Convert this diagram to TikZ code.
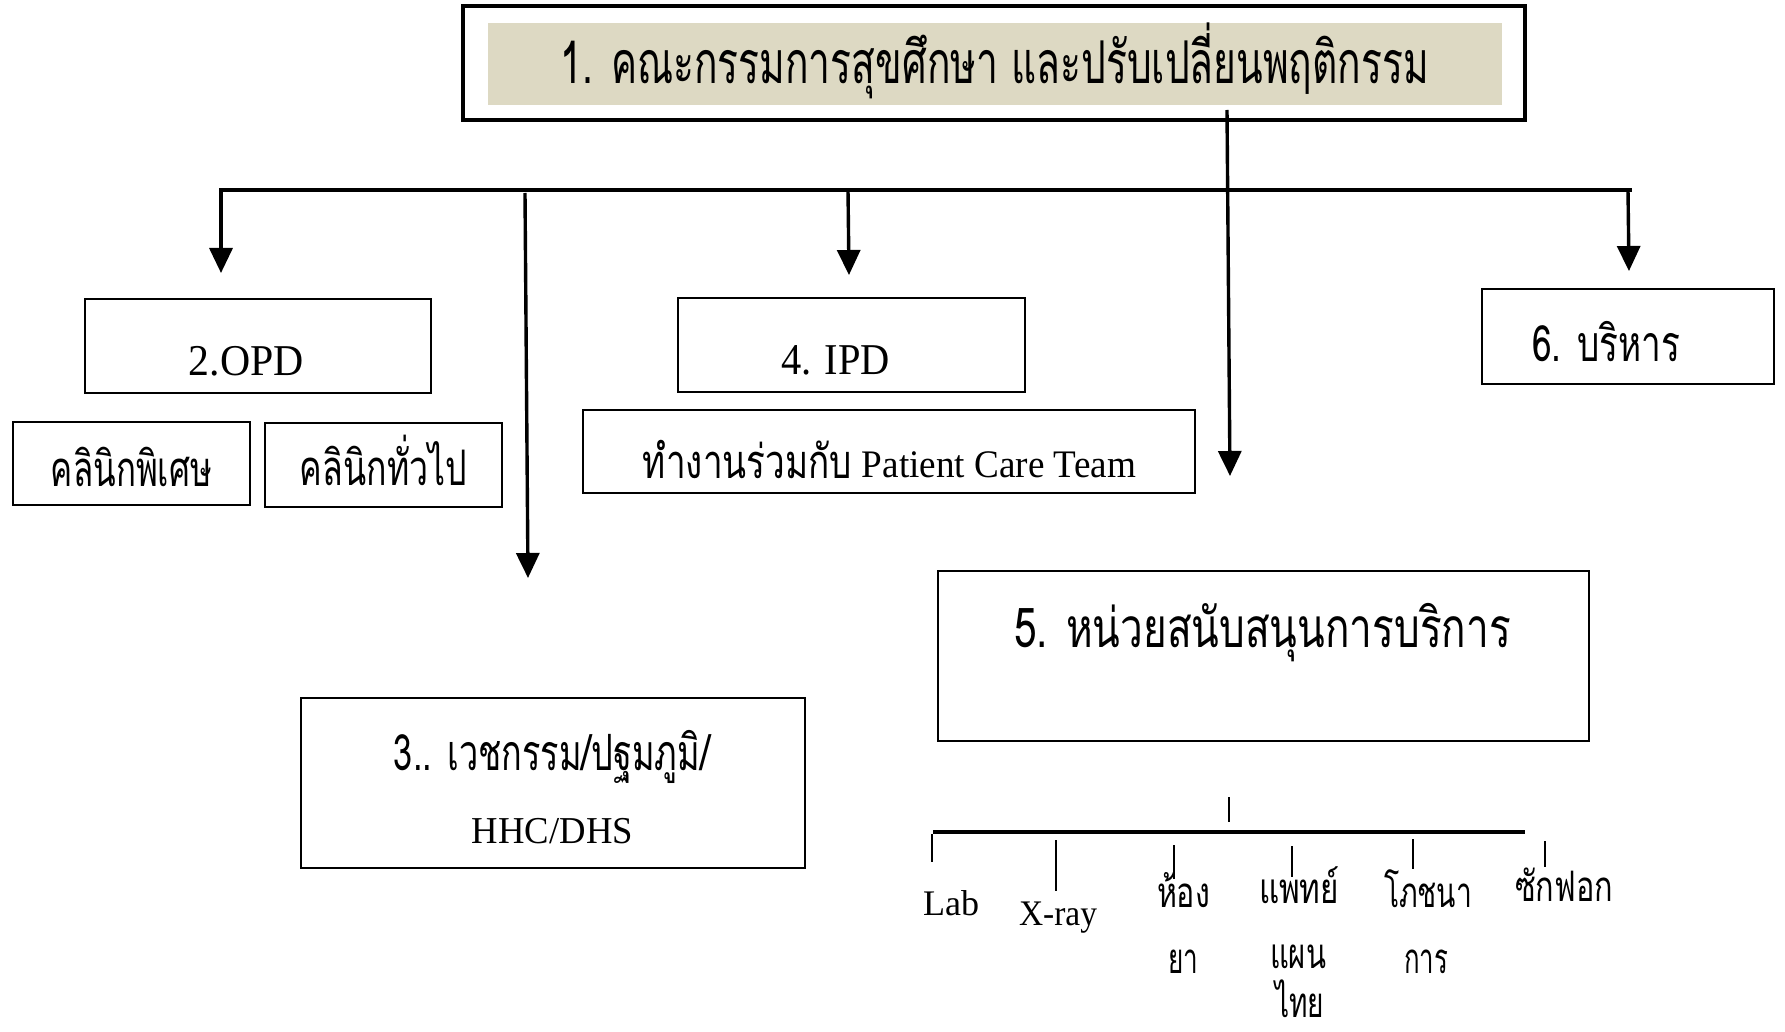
\documentclass[tikz,border=0pt]{standalone}
\usepackage{fontspec}
\setmainfont{Liberation Serif}
\newfontfamily\thai[Script=Thai]{Loma}
\usetikzlibrary{arrows.meta}
\definecolor{beige}{RGB}{221,217,195}
\newcommand{\fw}[2]{\resizebox{\dimexpr #1pt/2\relax}{\height}{#2}}
\newcommand{\thsz}[1]{\thai\fontsize{#1}{#1}\selectfont}
\newcommand{\lasz}[1]{\rmfamily\fontsize{#1}{#1}\selectfont}
\begin{document}
\begin{tikzpicture}[x=0.5pt,y=-0.5pt,
  box/.style={draw, line width=1.4pt, inner sep=0pt, outer sep=0pt},
  txt/.style={inner sep=0pt, outer sep=0pt, anchor=base},
  conn/.style={line width=1.7pt},
  arr/.style={conn,-{Triangle[width=11.5pt,length=12.5pt]}},
  tick/.style={line width=1.1pt}]
\useasboundingbox (0,0) rectangle (1785,1032);
% boxes
\node[box, line width=1.8pt, minimum width=531pt, minimum height=57pt] (top) at (994,63) {};
\node[fill=beige, inner sep=0pt, minimum width=507pt, minimum height=41pt] (topfill) at (995,64) {};
\node[box, minimum width=173pt, minimum height=47pt] (opd) at (258,346) {};
\node[box, minimum width=118.5pt, minimum height=41.5pt] (spec) at (131.5,463.5) {};
\node[box, minimum width=118.5pt, minimum height=42pt] (gen) at (383.5,465) {};
\node[box, minimum width=173.5pt, minimum height=47pt] (ipd) at (851.5,345) {};
\node[box, minimum width=306pt, minimum height=41.5pt] (pct) at (889,451.5) {};
\node[box, minimum width=146pt, minimum height=47.5pt] (adm) at (1628,336.5) {};
\node[box, minimum width=252pt, minimum height=85pt] (er) at (553,783) {};
\node[box, minimum width=325.5pt, minimum height=85pt] (sup) at (1263.5,656) {};
% texts
\node[txt] (ttop) at (995,84) {\thsz{29.5}\fw{868}{1. คณะกรรมการสุขศึกษา และปรับเปลี่ยนพฤติกรรม}};
\node[txt] (topd) at (246.5,376) {\lasz{22}\fw{115}{2.OPD}};
\node[txt] (tspec) at (131.5,486) {\thsz{24.5}\fw{161}{คลินิกพิเศษ}};
\node[txt] (tgen) at (383.5,486) {\thsz{24.5}\fw{167}{คลินิกทั่วไป}};
\node[txt] (tipd) at (835.5,375) {\lasz{22}\fw{109}{4. IPD}};
\node[txt] (tpct) at (889.5,478) {{\thsz{23.5}\fw{209}{ทำงานร่วมกับ}}\hspace{5pt}{\lasz{19.5}\fw{274}{Patient Care Team}}};
\node[txt] (tadm) at (1606,362) {\thsz{25}\fw{148}{6. บริหาร}};
\node[txt] (ter1) at (552,770) {\thsz{25}\fw{316}{3.. เวชกรรม/ปฐมภูมิ/}};
\node[txt] (ter2) at (552.5,843) {\lasz{19}\fw{161}{HHC/DHS}};
\node[txt] (tsup) at (1262.5,647) {\thsz{27.5}\fw{497}{5. หน่วยสนับสนุนการบริการ}};
\node[txt] (tlab) at (951,915) {\lasz{18}\fw{56}{Lab}};
\node[txt] (txr) at (1058,925) {\lasz{18}\fw{78}{X-ray}};
\node[txt] (tph1) at (1183.5,907) {\thsz{21}\fw{53}{ห้อง}};
\node[txt] (tph2) at (1183,973) {\thsz{21}\fw{30}{ยา}};
\node[txt] (tth1) at (1299,903) {\thsz{21}\fw{80}{แพทย์}};
\node[txt] (tth2) at (1298,968) {\thsz{21}\fw{56}{แผน}};
\node[txt] (tth3) at (1299.5,1017) {\thsz{21}\fw{49}{ไทย}};
\node[txt] (tnu1) at (1428,907) {\thsz{21}\fw{88}{โภชนา}};
\node[txt] (tnu2) at (1426,973) {\thsz{21}\fw{44}{การ}};
\node[txt] (tln) at (1564,901) {\thsz{21}\fw{98}{ซักฟอก}};
% coordinates
\coordinate (busL) at (221,190);
\coordinate (busR) at (1630,190);
\coordinate (a2) at (221,273);
\coordinate (s3) at (525,193);
\coordinate (a3) at (528,578);
\coordinate (s4) at (848,190);
\coordinate (a4) at (849,275);
\coordinate (s5) at (1227,110);
\coordinate (a5) at (1230,476);
\coordinate (s6) at (1628,190);
\coordinate (a6) at (1629,271);
\coordinate (u1) at (1229,797);
\coordinate (u2) at (1229,822);
\coordinate (hL) at (933,832);
\coordinate (hR) at (1525,832);
% connectors
\draw[conn, line cap=rect] (busL) -- (busR);
\draw[arr] (busL) -- (a2);
\draw[arr] (s3) -- (a3);
\draw[arr] (s4) -- (a4);
\draw[arr] (s5) -- (a5);
\draw[arr] (s6) -- (a6);
\draw[tick] (u1) -- (u2);
\draw[conn] (hL) -- (hR);
\foreach \x/\ya/\yb [count=\i] in {932/834/862, 1056/840/891, 1174/845/879, 1292/846/877, 1413/839/869, 1545/841/867}{
  \coordinate (k\i a) at (\x,\ya);
  \coordinate (k\i b) at (\x,\yb);
  \draw[tick] (k\i a) -- (k\i b);
}
\end{tikzpicture}
\end{document}
